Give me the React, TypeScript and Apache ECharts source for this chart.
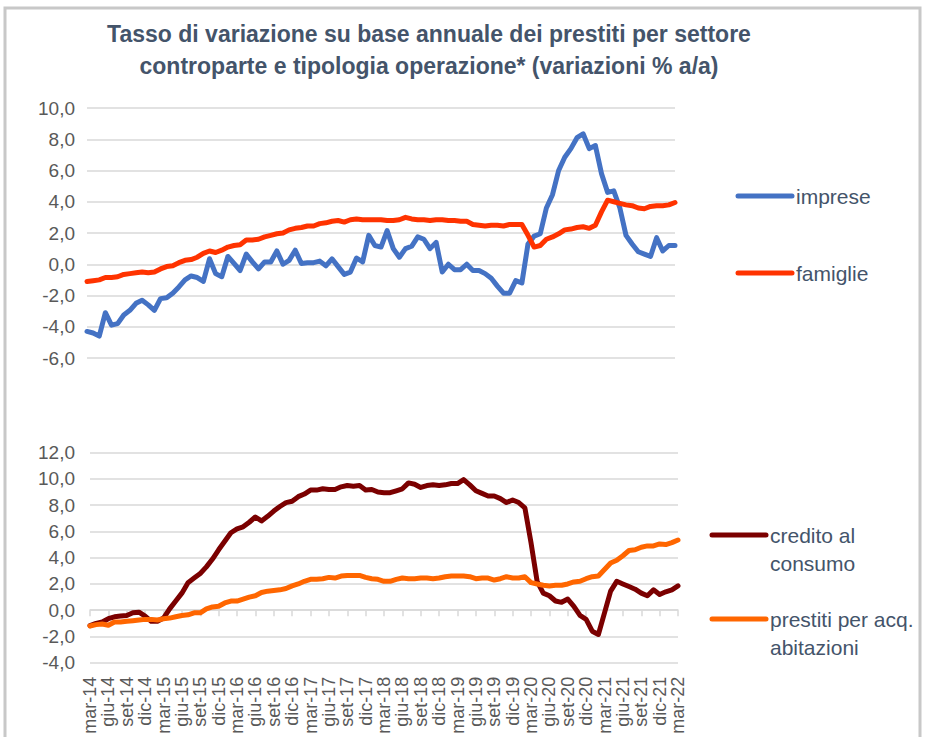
import React, { useEffect, useRef } from 'react';
import * as echarts from 'echarts';

const monthNames = ['gen', 'feb', 'mar', 'apr', 'mag', 'giu', 'lug', 'ago', 'set', 'ott', 'nov', 'dic'];
const firstMonthIndex = 2; // mar
const firstYear = 14;
const monthCount = 97; // mar-14 .. mar-22
const categories: string[] = [];
for (let k = 0; k < monthCount; k++) {
  const m = (firstMonthIndex + k) % 12;
  const y = firstYear + Math.floor((firstMonthIndex + k) / 12);
  categories.push(`${monthNames[m]}-${y}`);
}

const imprese = [
  -4.3, -4.4, -4.6, -3.1, -3.9, -3.8, -3.25, -2.95, -2.5, -2.3, -2.6, -2.95,
  -2.2, -2.15, -1.85, -1.45, -1.0, -0.75, -0.85, -1.1, 0.35, -0.6, -0.8, 0.5,
  0.05, -0.4, 0.65, 0.15, -0.3, 0.15, 0.15, 0.85, 0.0, 0.25, 0.9, 0.05,
  0.1, 0.1, 0.2, -0.1, 0.35, -0.15, -0.65, -0.5, 0.4, 0.15, 1.85, 1.2,
  1.1, 2.15, 1.0, 0.45, 1.0, 1.15, 1.75, 1.6, 1.0, 1.4, -0.5, 0.0,
  -0.35, -0.35, 0.0, -0.4, -0.4, -0.6, -0.9, -1.4, -1.85, -1.85, -1.05, -1.2,
  1.3, 1.8, 1.95, 3.6, 4.45, 6.0, 6.85, 7.4, 8.1, 8.35, 7.4, 7.6,
  5.8, 4.6, 4.7, 3.6, 1.85, 1.3, 0.8, 0.65, 0.5, 1.7, 0.85, 1.2, 1.2,
];

const famiglie = [
  -1.1, -1.05, -1.0, -0.85, -0.85, -0.8, -0.65, -0.6, -0.55, -0.5, -0.55, -0.5,
  -0.3, -0.15, -0.1, 0.1, 0.25, 0.3, 0.45, 0.7, 0.85, 0.75, 0.9, 1.1,
  1.2, 1.25, 1.55, 1.55, 1.6, 1.75, 1.85, 1.95, 2.0, 2.2, 2.3, 2.35,
  2.45, 2.45, 2.6, 2.65, 2.75, 2.8, 2.7, 2.85, 2.9, 2.85, 2.85, 2.85,
  2.85, 2.8, 2.8, 2.85, 3.0, 2.9, 2.85, 2.85, 2.8, 2.85, 2.85, 2.8,
  2.8, 2.75, 2.75, 2.55, 2.5, 2.45, 2.5, 2.5, 2.45, 2.55, 2.55, 2.55,
  1.85, 1.1, 1.2, 1.6, 1.75, 1.95, 2.2, 2.25, 2.35, 2.4, 2.3, 2.5,
  3.35, 4.1, 4.0, 3.9, 3.8, 3.75, 3.6, 3.55, 3.7, 3.75, 3.75, 3.8, 3.95,
];

const creditoConsumo = [
  -1.17, -1.0, -0.9, -0.65, -0.5, -0.45, -0.4, -0.2, -0.15, -0.45, -0.85, -0.85,
  -0.6, 0.1, 0.7, 1.3, 2.1, 2.45, 2.8, 3.3, 3.9, 4.6, 5.25, 5.9,
  6.2, 6.35, 6.7, 7.1, 6.8, 7.15, 7.55, 7.9, 8.2, 8.3, 8.65, 8.85,
  9.15, 9.15, 9.25, 9.2, 9.2, 9.4, 9.5, 9.45, 9.5, 9.15, 9.2, 9.0,
  8.95, 8.95, 9.1, 9.25, 9.7, 9.6, 9.35, 9.5, 9.55, 9.5, 9.55, 9.65,
  9.65, 9.95, 9.55, 9.1, 8.9, 8.7, 8.7, 8.5, 8.2, 8.4, 8.2, 7.8,
  5.15, 2.2, 1.3, 1.1, 0.7, 0.6, 0.85, 0.3, -0.4, -0.7, -1.6, -1.85,
  -0.2, 1.45, 2.2, 2.0, 1.8, 1.6, 1.3, 1.1, 1.55, 1.2, 1.4, 1.55, 1.85,
];

const prestitiAbitazioni = [
  -1.2, -1.1, -1.05, -1.15, -0.9, -0.9, -0.85, -0.8, -0.75, -0.7, -0.7, -0.75,
  -0.65, -0.6, -0.5, -0.4, -0.35, -0.2, -0.2, 0.1, 0.25, 0.3, 0.55, 0.7,
  0.7, 0.85, 1.0, 1.1, 1.35, 1.45, 1.5, 1.55, 1.65, 1.85, 2.0, 2.2,
  2.35, 2.35, 2.4, 2.5, 2.45, 2.6, 2.65, 2.65, 2.65, 2.5, 2.4, 2.35,
  2.2, 2.2, 2.35, 2.45, 2.4, 2.4, 2.45, 2.45, 2.4, 2.45, 2.55, 2.6,
  2.6, 2.6, 2.55, 2.4, 2.45, 2.45, 2.3, 2.4, 2.55, 2.45, 2.45, 2.55,
  2.1, 2.0, 1.9, 1.85, 1.9, 1.9, 2.0, 2.15, 2.2, 2.4, 2.55, 2.6,
  3.1, 3.6, 3.8, 4.15, 4.55, 4.6, 4.8, 4.9, 4.9, 5.05, 5.0, 5.15, 5.35,
];

const titleLines = [
  'Tasso di variazione su base annuale dei prestiti per settore',
  'controparte e tipologia operazione* (variazioni % a/a)',
];
const legendTop = ['imprese', 'famiglie'];
const legendBottom = ['credito al\nconsumo', 'prestiti per acq.\nabitazioni'];

const COLORS = {
  imprese: '#4472c4',
  famiglie: '#ff3300',
  credito: '#7b0000',
  abitazioni: '#ff6600',
};

const FONT = "'Liberation Sans', Arial, sans-serif";
const GRID_COLOR = '#d9d9d9';
const LABEL_COLOR = '#595959';
const TEXT_COLOR = '#44546a';

const fmt = (v: number) => v.toFixed(1).replace('.', ',');

export default function App() {
  const ref = useRef<HTMLDivElement>(null);

  useEffect(() => {
    if (!ref.current) return;
    const chart = echarts.init(ref.current, undefined, { renderer: 'svg' });

    const lineSeries = (name: string, data: number[], color: string, gridIdx: number, xIdx: number) => ({
      name,
      type: 'line',
      xAxisIndex: xIdx,
      yAxisIndex: gridIdx,
      data,
      symbol: 'none',
      showSymbol: false,
      lineStyle: { color, width: 5, cap: 'round', join: 'round' },
      itemStyle: { color },
      emphasis: { disabled: true },
    });

    const legendItem = (x: number, y: number, color: string, text: string) => [
      {
        type: 'line',
        shape: { x1: x, y1: y, x2: x + 54, y2: y },
        style: { stroke: color, lineWidth: 5, lineCap: 'round' },
      },
      {
        type: 'text',
        x: x + 58,
        y: y - 14,
        style: {
          text,
          fill: TEXT_COLOR,
          fontSize: 21,
          fontFamily: FONT,
          lineHeight: 28,
          align: 'left',
          verticalAlign: 'top',
        },
      },
    ];

    const option: any = {
      animation: false,
      backgroundColor: '#ffffff',
      grid: [
        { left: 87, top: 108, width: 588, height: 250 },
        { left: 90, top: 452.7, width: 588, height: 210 },
      ],
      xAxis: [
        { gridIndex: 0, type: 'category', data: categories, boundaryGap: false, show: false },
        {
          gridIndex: 1,
          type: 'category',
          data: categories,
          boundaryGap: false,
          position: 'bottom',
          axisLine: { onZero: true, lineStyle: { color: GRID_COLOR, width: 1.5 } },
          axisTick: { show: true, interval: 2, length: 6, lineStyle: { color: GRID_COLOR, width: 1.5 } },
          axisLabel: { show: false },
          splitLine: { show: false },
        },
        {
          gridIndex: 1,
          type: 'category',
          data: categories,
          boundaryGap: false,
          position: 'bottom',
          axisLine: { show: false, onZero: false },
          axisTick: { show: false },
          splitLine: { show: false },
          axisLabel: {
            interval: 2,
            rotate: 90,
            margin: 14,
            fontSize: 18,
            color: LABEL_COLOR,
            fontFamily: FONT,
          },
        },
      ],
      yAxis: [
        {
          gridIndex: 0,
          type: 'value',
          min: -6,
          max: 10,
          interval: 2,
          axisLine: { show: false },
          axisTick: { show: false },
          axisLabel: { formatter: fmt, fontSize: 19, color: LABEL_COLOR, fontFamily: FONT, margin: 12 },
          splitLine: { lineStyle: { color: GRID_COLOR, width: 1.5 } },
        },
        {
          gridIndex: 1,
          type: 'value',
          min: -4,
          max: 12,
          interval: 2,
          axisLine: { show: false },
          axisTick: { show: false },
          axisLabel: { formatter: fmt, fontSize: 19, color: LABEL_COLOR, fontFamily: FONT, margin: 15 },
          splitLine: { lineStyle: { color: GRID_COLOR, width: 1.5 } },
        },
      ],
      series: [
        lineSeries('imprese', imprese, COLORS.imprese, 0, 0),
        lineSeries('famiglie', famiglie, COLORS.famiglie, 0, 0),
        lineSeries('credito al consumo', creditoConsumo, COLORS.credito, 1, 1),
        lineSeries('prestiti per acq. abitazioni', prestitiAbitazioni, COLORS.abitazioni, 1, 1),
      ],
      graphic: [
        {
          type: 'rect',
          shape: { x: 5, y: 8, width: 915, height: 760 },
          style: { fill: 'none', stroke: '#c8c8c8', lineWidth: 3 },
          z: -10,
        },
        {
          type: 'text',
          x: 429,
          y: 18,
          style: {
            text: titleLines.join('\n'),
            fill: TEXT_COLOR,
            fontSize: 23,
            fontWeight: 'bold',
            fontFamily: FONT,
            lineHeight: 32,
            align: 'center',
            verticalAlign: 'top',
          },
        },
        ...legendItem(738, 196, COLORS.imprese, legendTop[0]),
        ...legendItem(738, 273, COLORS.famiglie, legendTop[1]),
        ...legendItem(712, 535, COLORS.credito, legendBottom[0]),
        ...legendItem(712, 619, COLORS.abitazioni, legendBottom[1]),
      ],
    };

    chart.setOption(option);
    return () => chart.dispose();
  }, []);

  return (
    <div
      ref={ref}
      style={{ position: 'fixed', left: 0, top: 0, width: 926, height: 737, background: '#fff' }}
    />
  );
}
